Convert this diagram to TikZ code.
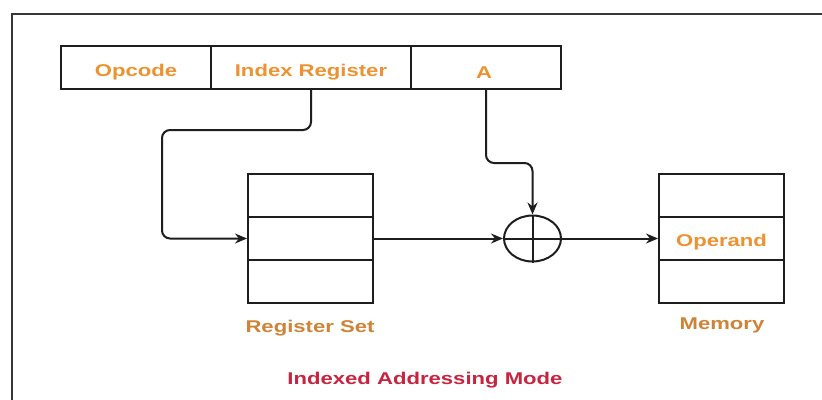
\documentclass[tikz,border=0pt]{standalone}
\usepackage{fontspec}
\newfontfamily\lbl[FakeStretch=1.3]{Liberation Sans}
\usetikzlibrary{shapes.geometric,arrows.meta}
\definecolor{txtor}{RGB}{236,146,48}
\definecolor{lblor}{RGB}{206,132,56}
\definecolor{ttlred}{RGB}{200,36,64}
\definecolor{framegray}{RGB}{55,55,55}
\definecolor{linegray}{RGB}{30,30,30}
\begin{document}
\begin{tikzpicture}[x=1pt,y=-1pt,
  txt/.style={font=\lbl\bfseries\fontsize{17}{20}\selectfont,inner sep=0pt,anchor=base},
  celltxt/.style={txt,text=txtor},
  cell/.style={draw=linegray,line width=2pt,minimum height=43pt,inner sep=0pt},
  regcell/.style={cell,minimum width=125pt,minimum height=43pt},
  lab/.style={txt,text=lblor},
  conn/.style={draw=linegray,line width=2pt,rounded corners=8pt,-{Stealth[length=12pt,width=10pt]}}
]
\useasboundingbox (0,0) rectangle (822,399);
\fill[white] (0,0) rectangle (822,399);
% outer frame
\draw[framegray,line width=2.5pt] (12,402) -- (12,14) -- (825,14);

% instruction format
\node[cell,minimum width=150pt] (op) at (136,67.5) {};
\node[cell,minimum width=200pt] (idx) at (311,67.5) {};
\node[cell,minimum width=150pt] (addr) at (486,67.5) {};
\node[celltxt] (optxt) at (136,76) {Opcode};
\node[celltxt] (idxtxt) at (311,76) {Index Register};
\node[celltxt] (addrtxt) at (484,78) {A};

% register set
\node[regcell] (rs1) at (310.5,195.5) {};
\node[regcell] (rs2) at (310.5,238.5) {};
\node[regcell] (rs3) at (310.5,281.5) {};
\node[lab] (rslab) at (310,332) {Register Set};

% adder
\node[ellipse,draw=linegray,line width=2pt,minimum width=57pt,minimum height=46pt,inner sep=0pt] (sum) at (532.5,238.5) {};
\draw[linegray,line width=2pt] (sum.north) -- (sum.south) (sum.west) -- (sum.east);

% memory
\node[regcell] (m1) at (721.5,195.5) {};
\node[regcell] (m2) at (721.5,238.5) {};
\node[regcell] (m3) at (721.5,281.5) {};
\node[celltxt] (mtxt) at (721.5,246) {Operand};
\node[lab] (mlab) at (722,329) {Memory};

% title
\node[txt,text=ttlred] (title) at (425,384) {Indexed Addressing Mode};

% connectors
\coordinate (c1) at (162,130);
\coordinate (c2) at (532.5,163);
\draw[conn] (idx.south) |- (c1) |- (rs2.west);
\draw[conn] (addr.south) |- (c2) -- (sum.north);
\draw[conn] (rs2.east) -- (sum.west);
\draw[conn] (sum.east) -- (m2.west);
\end{tikzpicture}
\end{document}
